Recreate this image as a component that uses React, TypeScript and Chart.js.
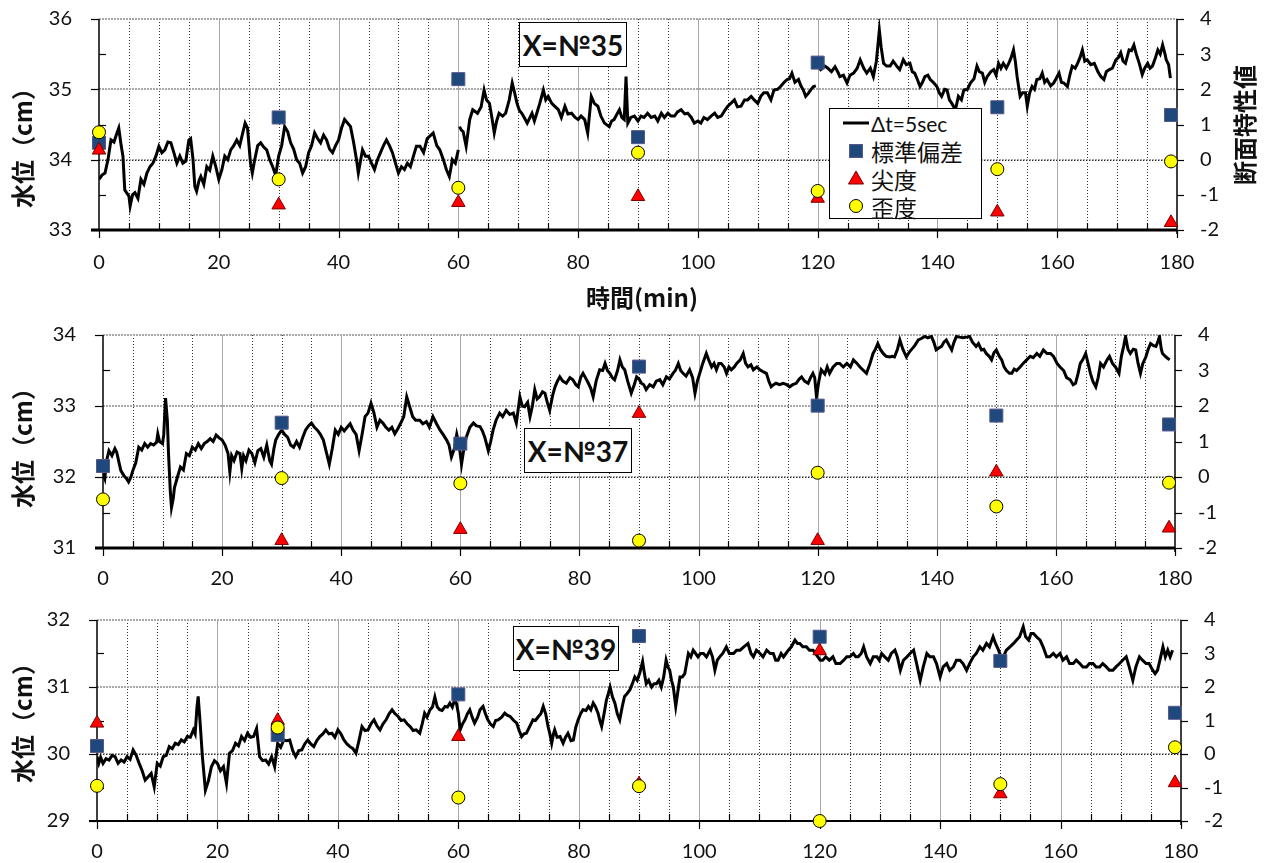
import React, { useEffect, useRef } from "react";
import { Chart, registerables } from "chart.js";
Chart.register(...registerables);

const FONT = "Lato, 'Noto Sans CJK JP', sans-serif";
const JP = "'Noto Sans CJK JP', Lato, sans-serif";

// ---------- data ----------
const STAT_T = [0, 30, 60, 90, 120, 150, 179];

// Panel X=№35
const L1_T = [0,0.5,1,1.5,2,2.5,3,3.3,3.7,4,4.3,5,5.2,5.6,6,6.5,7,7.5,8,8.5,9,9.5,10,10.5,11,11.5,12,12.5,13,13.5,14,14.5,15,15.3,15.7,16,16.3,16.7,17,17.5,18,18.5,19,19.5,20,20.5,21,21.5,22,22.5,23,23.5,24,24.4,24.8,25.3,25.6,26,26.5,27,27.5,28,28.5,29,29.5,30,30.5,31,31.5,32,32.5,33,33.5,34,34.5,35,35.5,36,36.5,37,37.5,38,38.5,39,39.5,40,40.5,41,41.5,42,42.5,43,43.3,43.7,44,44.5,45,45.5,46,46.5,47,47.5,48,48.5,49,49.5,50,50.5,51,51.5,52,52.5,53,53.6,54.2,54.8,55.8,56.4,56.9,57.5,58,58.5,58.8,59,59.5,60,60.1,60.2,60.5,60.8,61.3,61.9,62.4,63.2,63.8,64.3,64.7,65.2,65.6,66,66.4,66.8,67.4,67.9,68.5,69,69.4,69.8,70.2,70.6,71,71.5,72.3,72.7,73.1,73.6,74.2,74.6,75,75.6,76.2,76.7,77.2,77.8,78.3,78.9,79.5,80,80.5,81.1,81.6,82.2,82.7,83.3,83.8,84.4,85.2,85.6,86,86.5,86.9,87.3,87.7,88,88.3,88.8,89.4,90,90.5,91,91.6,92.2,92.8,93.3,93.9,94.4,95,95.5,96.1,96.6,97.2,97.8,98.3,98.9,99.4,100,100.5,101,101.6,102.2,102.8,103.3,103.9,104.5,105,105.5,106.1,106.6,107.2,107.8,108.3,108.9,109.4,110,110.5,111,111.6,112.2,112.7,113.3,113.8,114.4,114.9,115.3,115.7,116.2,116.8,117.2,117.6,118,118.5,118.9,119.3,119.7,119.85,120,120.5,121.2,121.7,122.3,122.9,123.4,123.7,124.3,124.9,125.4,126,126.6,127.1,127.7,128.2,128.8,129.3,129.8,130.3,130.6,131,131.5,132.1,132.6,133.2,133.7,134.3,134.8,135.4,135.8,136.2,136.6,137.1,137.5,137.9,138.4,138.8,139.3,139.9,140.3,140.7,141.2,141.6,142,142.4,143,143.5,144,144.4,145,145.5,146.1,146.6,147,147.5,147.9,148.3,148.9,149.4,149.8,150.2,150.6,151,151.5,151.9,152.3,152.7,153,153.3,153.8,154.2,154.7,155,155.4,155.8,156.2,156.6,157.1,157.5,157.9,158.3,158.9,159.4,159.8,160.3,160.7,161.1,161.7,162.1,162.5,163,163.4,163.8,164.2,164.6,165,165.6,166.2,166.8,167.3,167.8,168.2,168.7,169.2,169.8,170.2,170.6,171,171.4,172,172.4,172.8,173.2,173.7,174.2,174.6,175.1,175.5,175.9,176.4,176.8,177.2,177.6,178,178.2,178.6,178.9];
const L1_V = [33.72,33.78,33.81,34.0,34.28,34.25,34.38,34.45,34.2,34.05,33.57,33.48,33.34,33.5,33.53,33.45,33.72,33.65,33.81,33.9,33.95,34.05,34.19,34.1,34.14,34.25,34.24,34.1,33.95,34.05,33.95,33.98,34.28,34.3,34.0,33.62,33.55,33.7,33.76,33.65,33.9,33.85,34.05,33.9,33.72,33.85,34.05,34.0,34.14,34.2,34.28,34.2,34.38,34.52,34.45,33.95,33.81,34.0,34.2,34.24,34.18,34.14,34.0,33.9,33.78,34.05,34.2,34.47,34.4,34.24,34.15,34.0,33.95,33.81,33.9,34.1,34.2,34.38,34.3,34.24,34.35,34.28,34.15,34.1,34.2,34.28,34.45,34.57,34.52,34.47,34.25,34.0,33.81,34.0,34.14,34.05,34.05,33.95,33.86,34.0,34.1,34.2,34.28,34.2,34.1,33.95,33.81,33.9,33.86,33.95,33.9,34.05,34.19,34.19,34.1,34.3,34.38,34.2,34.14,34.0,33.86,33.76,33.9,34.0,33.95,34.14,null,34.47,34.42,34.4,34.19,34.57,34.71,34.66,34.75,34.99,34.85,34.8,34.6,34.38,34.55,34.66,34.62,34.66,34.85,35.09,34.95,34.8,34.7,34.66,34.6,34.52,34.66,34.55,34.66,34.8,34.99,34.85,34.9,34.8,34.75,34.71,34.6,34.76,34.65,34.66,34.6,34.57,34.62,34.57,34.38,34.9,34.8,34.76,34.62,34.52,34.47,34.55,34.57,34.65,34.71,34.6,34.57,35.18,34.52,34.6,34.62,34.55,34.62,34.6,34.66,34.6,34.62,34.55,34.66,34.6,34.66,34.62,34.62,34.68,34.71,34.65,34.66,34.6,34.52,34.55,34.52,34.6,34.57,34.62,34.66,34.6,34.62,34.7,34.76,34.8,34.85,34.75,34.76,34.85,34.85,34.9,34.85,34.8,34.9,34.95,34.95,34.85,34.99,35.0,35.04,35.1,35.14,35.15,35.23,35.1,35.14,35.05,34.99,34.9,34.95,35.0,35.04,35.05,null,35.33,35.28,35.33,35.3,35.25,35.32,35.24,35.18,35.2,35.09,35.2,35.23,35.3,35.42,35.3,35.23,35.3,35.18,35.4,35.84,35.6,35.37,35.33,35.33,35.4,35.33,35.28,35.42,35.35,35.37,35.25,35.23,35.15,35.04,35.1,35.18,35.2,35.14,35.1,35.04,34.95,34.9,35.0,34.99,34.85,34.8,34.71,34.9,34.85,34.99,35.0,35.09,35.15,35.33,35.25,35.23,35.1,35.18,35.25,35.28,35.2,35.37,35.3,35.37,35.3,35.37,35.45,35.56,35.4,35.18,34.9,34.95,34.95,34.76,34.95,35.04,35.0,35.14,35.15,35.23,35.1,35.14,35.05,35.09,35.15,35.23,35.1,35.09,35.04,35.2,35.33,35.3,35.37,35.45,35.56,35.4,35.42,35.35,35.37,35.25,35.18,35.14,35.25,35.28,35.3,35.42,35.45,35.52,35.4,35.37,35.56,35.55,35.63,35.5,35.37,35.21,35.3,35.37,35.3,35.33,35.45,35.56,35.5,35.63,35.5,35.42,35.35,35.16];
const SD1 = [0.48, 1.2, 2.29, 0.64, 2.76, 1.49, 1.27];
const KU1 = [0.27, -1.29, -1.22, -1.05, -1.1, -1.49, -1.79];
const SK1 = [0.78, -0.56, -0.8, 0.2, -0.89, -0.27, -0.05];

// Panel X=№37
const L2_T = [0,0.3,0.6,1,1.5,2,2.3,2.7,3,3.5,4,4.3,4.7,5,5.5,6,6.5,7,7.5,8,8.5,9,9.2,9.5,10,10.2,10.5,10.8,11,11.3,11.5,11.8,12,12.5,13,13.5,14,14.5,15,15.5,16,16.5,17,17.5,18,18.5,19,19.5,20,20.5,21,21.3,21.6,22,22.5,23,23.3,23.6,24,24.5,25,25.5,26,26.5,27,27.5,28,28.3,28.7,29,29.5,30,30.5,31,31.5,32,32.5,33,33.5,34,34.5,35,35.5,36,36.5,37,37.5,38,38.5,39,39.5,40,40.5,41,41.5,42,42.5,43,43.5,44,44.5,45,45.5,46,46.5,47,47.5,48,48.5,49,49.5,50,50.5,51,51.5,52,52.5,53.2,53.7,54.3,54.8,55.4,56,56.6,57.1,57.7,58.1,58.5,59,59.4,59.8,60.2,60.6,61,61.6,62.2,62.7,63.3,63.7,64.1,64.7,65.1,65.5,66,66.6,67.1,67.7,68.3,68.9,69.4,70,70.4,70.8,71.3,71.7,72.1,72.5,72.9,73.3,73.8,74.2,74.6,75,75.5,75.9,76.3,76.7,77.2,77.8,78.4,78.9,79.4,79.8,80.2,80.6,81,81.5,81.9,82.3,82.8,83.4,83.9,84.3,84.7,85.1,85.5,85.9,86.4,86.8,87.2,87.6,88.1,88.7,89.2,89.6,90,90.4,90.8,91.2,91.8,92.4,92.9,93.5,94,94.6,95.1,95.7,96.1,96.6,97,97.4,97.9,98.5,99,99.4,99.8,100.2,100.7,101.3,101.7,102.2,102.6,103,103.4,103.8,104.3,104.7,105.1,105.5,106,106.4,107,107.5,107.9,108.3,108.8,109.2,109.8,110.3,110.9,111.4,111.8,112.2,112.6,113,113.6,114.2,114.8,115.3,115.8,116.4,116.9,117.3,117.8,118.4,118.8,119.2,119.5,119.8,120.2,120.6,121.2,121.6,122,122.6,123.2,123.7,124.3,124.9,125.5,126,126.6,127.1,127.7,128.2,128.8,129.3,129.7,130.1,130.5,131,131.5,132.1,132.5,132.9,133.4,133.8,134.3,134.9,135.3,135.7,136.3,136.9,137.4,138,138.5,139.1,139.5,139.9,140.4,140.8,141.2,141.6,142.1,142.5,142.9,143.3,143.8,144.4,145,145.5,146,146.6,147,147.5,147.9,148.3,148.8,149.2,149.6,150,150.5,150.9,151.3,151.7,152.2,152.6,153,153.4,154,154.5,155.1,155.7,156.2,156.8,157.3,157.9,158.5,159.1,159.6,160.2,160.7,161.3,161.8,162.4,162.9,163.3,163.7,164.1,164.5,165,165.4,165.8,166.2,166.7,167.1,167.5,168,168.6,169,169.5,170,170.6,171,171.4,171.7,172.1,172.5,173,173.4,173.8,174.2,174.6,175.1,175.5,175.9,176.4,176.8,177.1,177.4,177.7,177.9,178.5,179.1];
const L2_V = [32.05,31.98,32.23,32.37,32.3,32.4,32.35,32.2,32.09,32.02,31.97,31.93,32.0,32.09,32.2,32.42,32.38,32.47,32.42,32.47,32.45,32.49,32.61,32.5,32.47,32.6,33.11,32.8,32.33,31.8,31.57,31.7,31.85,32.0,32.14,32.1,32.33,32.3,32.42,32.38,32.47,32.4,32.47,32.5,32.54,32.5,32.59,32.55,32.52,32.45,32.33,32.07,32.3,32.23,32.35,32.33,32.12,32.3,32.23,32.38,32.33,32.2,32.37,32.4,32.28,32.45,32.23,32.18,32.4,32.52,32.6,32.66,32.6,32.56,32.45,32.42,32.5,32.42,32.55,32.66,32.72,32.76,32.7,32.66,32.6,32.52,32.35,32.18,32.4,32.66,32.6,32.7,32.65,32.7,32.75,32.66,32.6,32.37,32.6,32.85,32.9,33.04,32.9,32.7,32.8,32.76,32.7,32.66,32.7,32.61,32.68,32.76,32.85,33.13,32.99,32.85,32.8,32.8,32.75,32.78,32.7,32.85,32.75,32.66,32.6,32.52,32.45,32.28,32.4,32.6,32.45,32.18,32.4,32.56,32.7,32.76,32.72,32.71,32.65,32.56,32.37,32.5,32.66,32.8,32.9,32.85,32.94,32.88,32.9,32.76,33.13,33.0,32.99,33.05,32.85,33.0,33.23,33.1,33.13,33.2,33.18,33.05,32.94,33.15,33.27,33.35,33.41,33.35,33.32,33.4,33.37,33.3,33.27,33.4,33.46,33.4,33.32,33.25,33.13,33.35,33.51,33.5,33.6,33.5,33.46,33.4,33.37,33.5,33.65,33.55,33.51,33.35,33.18,33.3,33.41,33.38,33.32,33.3,33.23,33.3,33.27,33.35,33.37,33.3,33.41,33.38,33.46,33.5,33.6,33.5,33.46,33.42,33.51,33.4,33.18,33.35,33.46,33.6,33.74,33.65,33.55,33.6,33.51,33.6,33.6,33.55,33.46,33.55,33.51,33.55,33.6,33.65,33.74,33.6,33.55,33.58,33.51,33.55,33.51,33.48,33.46,33.35,33.27,33.3,33.32,33.3,33.32,33.3,33.27,33.3,33.32,33.38,33.41,33.35,33.32,33.4,33.46,33.4,33.13,33.35,33.51,33.45,33.55,33.46,33.55,33.6,33.6,33.55,33.6,33.55,33.65,33.6,33.55,33.5,33.46,33.6,33.74,33.8,33.88,33.8,33.74,33.7,33.69,33.7,33.69,33.8,33.93,33.8,33.69,33.75,33.79,33.85,33.93,33.95,33.98,33.96,33.98,33.9,33.79,33.82,33.84,33.9,33.93,33.85,33.79,33.9,33.98,33.97,33.96,33.97,33.98,33.9,33.84,33.88,33.79,33.8,33.74,33.7,33.65,33.75,33.79,33.7,33.65,33.55,33.5,33.46,33.46,33.52,33.5,33.55,33.6,33.65,33.7,33.68,33.74,33.7,33.79,33.74,33.74,33.7,33.6,33.55,33.5,33.4,33.37,33.3,33.32,33.45,33.6,33.65,33.74,33.6,33.46,33.35,33.27,33.4,33.6,33.55,33.65,33.7,33.6,33.55,33.46,33.7,33.85,33.98,33.8,33.74,33.8,33.79,33.6,33.46,33.6,33.69,33.8,33.88,33.85,33.84,33.9,33.98,33.8,33.74,33.69,33.65];
const SD2 = [0.31, 1.53, 0.94, 3.11, 2.01, 1.73, 1.48];
const KU2 = [null, -1.79, -1.48, 1.79, -1.79, 0.14, -1.44];
const SK2 = [-0.63, -0.03, -0.18, -1.79, 0.12, -0.83, -0.16];

// Panel X=№39
const L3_T = [0,0.3,0.6,1,1.5,2,2.5,3,3.5,4,4.5,5,5.5,6,6.5,7,7.5,8,8.5,9,9.5,10,10.5,11,11.5,12,12.5,13,13.5,14,14.5,15,15.5,16,16.3,16.6,16.8,17.1,17.5,18,18.5,19,19.5,20,20.5,21,21.5,22,22.5,23,23.5,24,24.5,25,25.5,26,26.5,27,27.5,28,28.5,29,29.5,30,30.5,31,31.5,32,32.5,33,33.5,34,34.5,35,35.5,36,36.5,37,37.5,38,38.5,39,39.5,40,40.5,41,41.5,42,42.5,43,43.5,44,44.5,45,45.5,46,46.5,47,47.5,48,48.5,49,49.5,50,50.5,51,51.5,52,52.5,53,53.6,54,54.4,54.8,55.3,55.7,56.1,56.5,56.9,57.3,57.8,58.2,58.6,59,59.4,59.7,60,60.3,60.7,61.1,61.5,61.9,62.3,62.7,63.2,63.6,64.1,64.5,64.9,65.3,65.8,66.2,66.6,67.2,67.7,68.1,68.6,69.2,69.7,70.1,70.5,70.9,71.3,71.8,72.4,72.8,73.3,73.7,74.1,74.5,74.9,75.2,75.5,75.8,76,76.4,76.9,77.4,77.8,78.2,78.7,79.1,79.5,79.9,80.3,80.7,81.2,81.6,82,82.4,82.8,83.2,83.5,83.8,84.2,84.6,84.9,85.2,85.6,86,86.4,86.8,87.2,87.6,88,88.5,88.9,89.3,89.7,90.1,90.6,90.9,91.2,91.6,92.1,92.5,92.9,93.3,93.7,94.1,94.5,94.8,95.1,95.4,95.7,96.1,96.4,96.8,97.2,97.6,97.9,98.2,98.6,99,99.4,99.8,100.2,100.7,101.2,101.8,102.2,102.6,103,103.4,103.9,104.5,105,105.7,106.2,106.8,107.4,108.1,108.6,109,109.5,110.1,110.6,111.2,111.8,112.3,112.7,113.1,113.6,114,114.4,114.8,115.3,115.9,116.3,116.7,117.2,117.8,118.3,118.9,119.3,119.7,120.1,120.5,121,121.6,122.2,122.7,123.4,124,124.5,125,125.6,126,126.4,126.9,127.3,127.8,128.4,128.9,129.5,129.9,130.3,130.8,131.4,131.9,132.5,132.9,133.4,133.9,134.5,135,135.6,136.1,136.7,137.2,137.8,138.3,138.9,139.4,140,140.5,141.1,141.6,142.2,142.7,143.3,143.8,144.4,144.9,145.5,146,146.6,147.1,147.7,148.2,148.8,149.2,149.7,150.1,150.5,151,151.6,152.2,152.7,153.2,153.8,154.2,154.7,155.1,155.5,156,156.6,157.1,157.7,158.2,158.8,159.3,159.9,160.4,161,161.5,162.1,162.6,163.2,163.7,164.3,164.8,165.4,165.9,166.5,167,167.6,168.1,168.7,169.2,169.8,170.3,170.9,171.4,172,172.5,173.1,173.6,174.2,174.7,175.3,175.7,176.1,176.5,177,177.4,177.8,178.2,178.6];
const L3_V = [29.96,29.86,29.95,29.86,29.93,29.91,29.98,29.96,29.86,29.91,29.88,29.96,29.92,30.06,29.98,29.86,29.75,29.61,29.66,29.71,29.51,29.86,29.82,29.96,29.98,30.11,30.08,30.16,30.14,30.21,30.18,30.26,30.25,30.36,30.3,30.7,30.86,30.5,29.96,29.46,29.6,29.81,29.9,29.86,29.75,29.81,29.56,30.01,30.05,30.16,30.12,30.26,30.2,30.31,30.25,30.26,30.38,29.96,29.9,29.91,29.85,29.96,29.81,30.16,30.1,30.21,30.2,30.21,30.05,29.96,30.05,30.06,30.15,30.21,30.15,30.11,30.2,30.26,30.3,30.36,30.3,30.31,30.25,30.36,30.3,30.21,30.15,30.11,30.08,30.01,30.2,30.41,30.35,30.36,30.45,30.51,30.42,30.36,30.45,30.51,30.6,30.66,30.6,30.56,30.5,30.51,30.45,30.41,30.35,30.36,30.31,30.45,30.61,30.55,30.66,30.7,30.85,30.7,30.66,30.65,30.71,30.7,30.76,30.7,30.81,30.75,30.61,30.36,30.45,30.51,30.6,30.66,30.55,30.46,30.55,30.66,30.71,30.6,30.51,30.45,30.41,30.5,30.51,30.55,30.61,30.58,30.56,30.5,30.46,30.35,30.26,30.3,30.31,30.4,30.51,30.5,30.56,30.6,30.71,30.6,30.41,30.3,30.16,30.3,30.36,30.25,30.26,30.16,30.25,30.31,30.2,30.21,30.4,30.51,30.6,30.66,30.65,30.71,30.66,30.76,30.7,30.61,30.5,30.41,30.6,30.81,30.9,31.0,30.85,30.76,30.6,30.51,30.7,30.86,30.9,30.96,31.05,31.15,31.1,31.2,31.38,31.2,31.05,31.1,31.0,31.05,31.05,31.1,31.0,31.15,31.4,31.3,31.25,31.1,31.0,30.71,30.9,31.15,31.15,31.2,31.35,31.5,31.45,31.55,31.5,31.45,31.5,31.5,31.45,31.55,31.45,31.25,31.4,31.45,31.5,31.6,31.5,31.5,31.55,31.55,31.6,31.65,31.5,31.45,31.55,31.5,31.45,31.55,31.5,31.5,31.4,31.4,31.5,31.45,31.5,31.55,31.6,31.7,31.65,31.65,31.6,31.6,31.55,31.55,31.5,31.45,31.4,31.4,31.45,31.4,31.45,31.35,31.35,31.4,31.45,31.45,31.5,31.45,31.45,31.5,31.6,31.45,31.35,31.45,31.45,31.4,31.5,31.45,31.4,31.5,31.55,31.45,31.25,31.4,31.45,31.5,31.55,31.35,31.1,31.3,31.5,31.45,31.45,31.35,31.15,31.3,31.35,31.25,31.3,31.4,31.4,31.35,31.25,31.35,31.45,31.5,31.6,31.55,31.65,31.6,31.75,31.65,31.55,31.45,31.45,31.55,31.6,31.65,31.7,31.75,31.9,31.75,31.7,31.8,31.8,31.75,31.7,31.6,31.45,31.45,31.5,31.45,31.5,31.4,31.45,31.35,31.35,31.4,31.35,31.3,31.3,31.35,31.35,31.3,31.3,31.35,31.3,31.25,31.25,31.3,31.35,31.4,31.45,31.3,31.1,31.3,31.45,31.4,31.35,31.35,31.25,31.2,31.25,31.4,31.6,31.45,31.55,31.45,31.55];
const SD3 = [0.24, 0.57, 1.78, 3.52, 3.5, 2.78, 1.23];
const KU3 = [0.92, 1.0, 0.52, -0.9, 3.08, -1.19, -0.86];
const SK3 = [-0.95, 0.79, -1.3, -0.96, -2.0, -0.9, 0.2];

const X_MAJOR = [0, 20, 40, 60, 80, 100, 120, 140, 160, 180];
const X_MINOR = [5,10,15,25,30,35,45,50,55,65,70,75,85,90,95,105,110,115,125,130,135,145,150,155,165,170,175];

const W = 1264;

type Spec = {
  top: number; height: number; padTop: number; left: number; right: number;
  xH: number; xPad: number; yMin: number; yMax: number; axisW: number;
  t: number[]; v: (number | null)[]; sd: number[]; ku: (number | null)[]; sk: number[];
};

const SPECS: Spec[] = [
  { top: 0, height: 310, padTop: 19, left: 99, right: 1177, xH: 80, xPad: 21, yMin: 33, yMax: 36, axisW: 3,
    t: L1_T, v: L1_V, sd: SD1, ku: KU1, sk: SK1 },
  { top: 310, height: 290, padTop: 25, left: 103, right: 1175, xH: 52, xPad: 19, yMin: 31, yMax: 34, axisW: 3,
    t: L2_T, v: L2_V, sd: SD2, ku: KU2, sk: SK2 },
  { top: 600, height: 263, padTop: 20, left: 97, right: 1181, xH: 42, xPad: 19, yMin: 29, yMax: 32, axisW: 2,
    t: L3_T, v: L3_V, sd: SD3, ku: KU3, sk: SK3 },
];

const decor = {
  id: "decor",
  beforeDatasetsDraw(chart: any, _a: any, opts: any) {
    const { ctx, chartArea: a, scales } = chart;
    const x = scales.x, y = scales.y, y2 = scales.y2;
    ctx.save();
    ctx.lineWidth = 1;
    X_MINOR.forEach((t) => {
      const px = Math.round(x.getPixelForValue(t)) + 0.5;
      ctx.setLineDash([1, 2]);
      ctx.strokeStyle = "#333";
      ctx.beginPath(); ctx.moveTo(px, a.top); ctx.lineTo(px, a.bottom); ctx.stroke();
    });
    X_MAJOR.slice(1, -1).forEach((t) => {
      const px = Math.round(x.getPixelForValue(t)) + 0.5;
      ctx.setLineDash([]);
      ctx.strokeStyle = "#a8a8a8";
      ctx.beginPath(); ctx.moveTo(px, a.top); ctx.lineTo(px, a.bottom); ctx.stroke();
    });
    for (let v = y.min + 1; v <= y.max; v++) {
      const py = Math.round(y.getPixelForValue(v));
      ctx.setLineDash([2, 1]);
      ctx.strokeStyle = "#a8a8a8";
      ctx.lineWidth = 2;
      ctx.beginPath(); ctx.moveTo(a.left, py); ctx.lineTo(a.right, py); ctx.stroke();
    }
    {
      const py = Math.round(y2.getPixelForValue(0)) + 0.5;
      ctx.setLineDash([1, 2]);
      ctx.strokeStyle = "#222";
      ctx.lineWidth = 1;
      ctx.beginPath(); ctx.moveTo(a.left, py); ctx.lineTo(a.right, py); ctx.stroke();
    }
    ctx.setLineDash([]);
    ctx.strokeStyle = "#000";
    ctx.lineWidth = 1.5;
    ctx.beginPath(); ctx.moveTo(a.left, a.top); ctx.lineTo(a.left, a.bottom); ctx.stroke();
    ctx.beginPath(); ctx.moveTo(a.right, a.top); ctx.lineTo(a.right, a.bottom + 4); ctx.stroke();
    ctx.lineWidth = 1.2;
    for (let v = y.min; v <= y.max; v += 0.5) {
      const py = Math.round(y.getPixelForValue(v)) + 0.5;
      ctx.beginPath();
      if (Number.isInteger(v)) { ctx.moveTo(a.left - 8, py); ctx.lineTo(a.left, py); }
      else { ctx.moveTo(a.left, py); ctx.lineTo(a.left + 7, py); }
      ctx.stroke();
    }
    for (let v = y2.min; v <= y2.max; v++) {
      const py = Math.round(y2.getPixelForValue(v)) + 0.5;
      ctx.beginPath(); ctx.moveTo(a.right, py); ctx.lineTo(a.right + 7, py); ctx.stroke();
    }
    X_MAJOR.forEach((t) => {
      const px = Math.round(x.getPixelForValue(t)) + 0.5;
      ctx.beginPath(); ctx.moveTo(px, a.bottom); ctx.lineTo(px, a.bottom + 8); ctx.stroke();
    });
    X_MINOR.forEach((t) => {
      const px = Math.round(x.getPixelForValue(t)) + 0.5;
      ctx.beginPath(); ctx.moveTo(px, a.bottom); ctx.lineTo(px, a.bottom - 7); ctx.stroke();
    });
    ctx.lineWidth = opts.axisW;
    ctx.beginPath(); ctx.moveTo(a.left - 8, a.bottom); ctx.lineTo(a.right, a.bottom); ctx.stroke();
    ctx.restore();
  },
};

// invisible tick marks push the tick labels away from the axis without affecting layout padding
const spacerGrid = (len: number) => ({
  display: true, drawOnChartArea: false, drawTicks: true, tickLength: len, color: "rgba(0,0,0,0)",
});

function makeConfig(p: Spec): any {
  const tickFont = { family: FONT, size: 20 };
  return {
    type: "scatter",
    data: {
      datasets: [
        {
          label: "歪度", yAxisID: "y2", order: 1, clip: false,
          data: STAT_T.map((t, i) => ({ x: t, y: p.sk[i] })),
          pointStyle: "circle", pointRadius: 6.5, backgroundColor: "#ffff00", borderColor: "#000", borderWidth: 1,
        },
        {
          label: "尖度", yAxisID: "y2", order: 2, clip: false,
          data: STAT_T.map((t, i) => ({ x: t, y: p.ku[i] })).filter((d) => d.y !== null),
          pointStyle: "triangle", pointRadius: 7.8, backgroundColor: "#ff0000", borderColor: "#7a0000", borderWidth: 1,
        },
        {
          label: "標準偏差", yAxisID: "y2", order: 3, clip: false,
          data: STAT_T.map((t, i) => ({ x: t, y: p.sd[i] })),
          pointStyle: "rect", pointRadius: 9.2, backgroundColor: "#1f497d", borderColor: "#56588a", borderWidth: 1,
        },
        {
          label: "Δt=5sec", yAxisID: "y", order: 4, showLine: true, spanGaps: false,
          data: p.t.map((t, i) => ({ x: t, y: p.v[i] })),
          borderColor: "#000", borderWidth: 3, pointRadius: 0, tension: 0,
        },
      ],
    },
    options: {
      responsive: false,
      animation: false,
      devicePixelRatio: 1,
      events: [],
      layout: { padding: { top: p.padTop, left: 0, right: 0, bottom: 0 } },
      plugins: { legend: { display: false }, tooltip: { enabled: false }, decor: { axisW: p.axisW } },
      scales: {
        x: {
          type: "linear", min: 0, max: 180,
          ticks: { stepSize: 20, autoSkip: false, maxRotation: 0, padding: 0, font: tickFont, color: "#111" },
          grid: spacerGrid(p.xPad), border: { display: false },
          afterFit: (s: any) => { s.height = p.xH; },
        },
        y: {
          type: "linear", position: "left", min: p.yMin, max: p.yMax,
          ticks: { stepSize: 1, padding: 0, font: tickFont, color: "#111" },
          grid: spacerGrid(27), border: { display: false },
          afterFit: (s: any) => { s.width = p.left; },
        },
        y2: {
          type: "linear", position: "right", min: -2, max: 4,
          ticks: { stepSize: 1, padding: 0, font: tickFont, color: "#111" },
          grid: spacerGrid(23), border: { display: false },
          afterFit: (s: any) => { s.width = W - p.right; },
        },
      },
    },
    plugins: [decor],
  };
}

function Panel({ spec }: { spec: Spec }) {
  const ref = useRef<HTMLCanvasElement | null>(null);
  useEffect(() => {
    if (!ref.current) return;
    const chart = new Chart(ref.current, makeConfig(spec));
    return () => chart.destroy();
  }, [spec]);
  return (
    <canvas
      ref={ref}
      width={W}
      height={spec.height}
      style={{ position: "absolute", left: 0, top: spec.top, width: W, height: spec.height }}
    />
  );
}

const rot = (cx: number, cy: number, text: string, size = 24): React.ReactNode => (
  <div
    style={{
      position: "absolute", left: cx, top: cy, transform: "translate(-50%,-50%) rotate(-90deg)",
      whiteSpace: "nowrap", fontFamily: JP, fontWeight: 700, fontSize: size, color: "#111", lineHeight: 1,
    }}
  >
    {text}
  </div>
);

const TitleBox = ({ x, y, w, h, text }: { x: number; y: number; w: number; h: number; text: string }) => (
  <div
    style={{
      position: "absolute", left: x, top: y, width: w, height: h, boxSizing: "border-box",
      border: "1px solid #000", background: "#fff", display: "flex", alignItems: "center",
      justifyContent: "center", fontFamily: FONT, fontWeight: 700, fontSize: 28, color: "#111",
    }}
  >
    {text}
  </div>
);

export default function App() {
  const legendText = { position: "absolute" as const, left: 871, fontFamily: FONT, fontSize: 21, color: "#111", lineHeight: 1, transform: "translateY(-50%)", whiteSpace: "nowrap" as const };
  const legendJp = { ...legendText, fontFamily: JP, fontSize: 23 };
  return (
    <div style={{ position: "fixed", left: 0, top: 0, width: W, height: 863, background: "#fff", overflow: "hidden" }}>
      {SPECS.map((s, i) => <Panel key={i} spec={s} />)}

      {rot(22, 142, "水位（cm）")}
      {rot(22, 442, "水位（cm）")}
      {rot(22, 717, "水位（cm）")}
      {rot(1244, 125, "断面特性値")}
      <div style={{ position: "absolute", left: 642, top: 297, transform: "translate(-50%,-50%)", fontFamily: JP, fontWeight: 700, fontSize: 24, color: "#111", whiteSpace: "nowrap", lineHeight: 1 }}>
        時間(min)
      </div>

      <TitleBox x={519} y={22} w={108} h={45} text="X=№35" />
      <TitleBox x={524} y={428} w={108} h={45} text="X=№37" />
      <TitleBox x={513} y={626} w={106} h={45} text="X=№39" />

      <div style={{ position: "absolute", left: 829, top: 108, width: 153, height: 111, boxSizing: "border-box", border: "1px solid #000", background: "#fff" }} />
      <svg style={{ position: "absolute", left: 0, top: 0 }} width={W} height={863}>
        <line x1={843} y1={123} x2={869} y2={123} stroke="#000" strokeWidth={3} />
        <rect x={849.5} y={144.5} width={13} height={13} fill="#1f497d" stroke="#56588a" strokeWidth={1} />
        <polygon points="856,171 863.5,184 848.5,184" fill="#ff0000" stroke="#7a0000" strokeWidth={1} />
        <circle cx={856} cy={206} r={6.5} fill="#ffff00" stroke="#000" strokeWidth={1} />
      </svg>
      <div style={{ ...legendText, top: 123 }}>Δt=5sec</div>
      <div style={{ ...legendJp, top: 151 }}>標準偏差</div>
      <div style={{ ...legendJp, top: 179 }}>尖度</div>
      <div style={{ ...legendJp, top: 207 }}>歪度</div>
    </div>
  );
}
